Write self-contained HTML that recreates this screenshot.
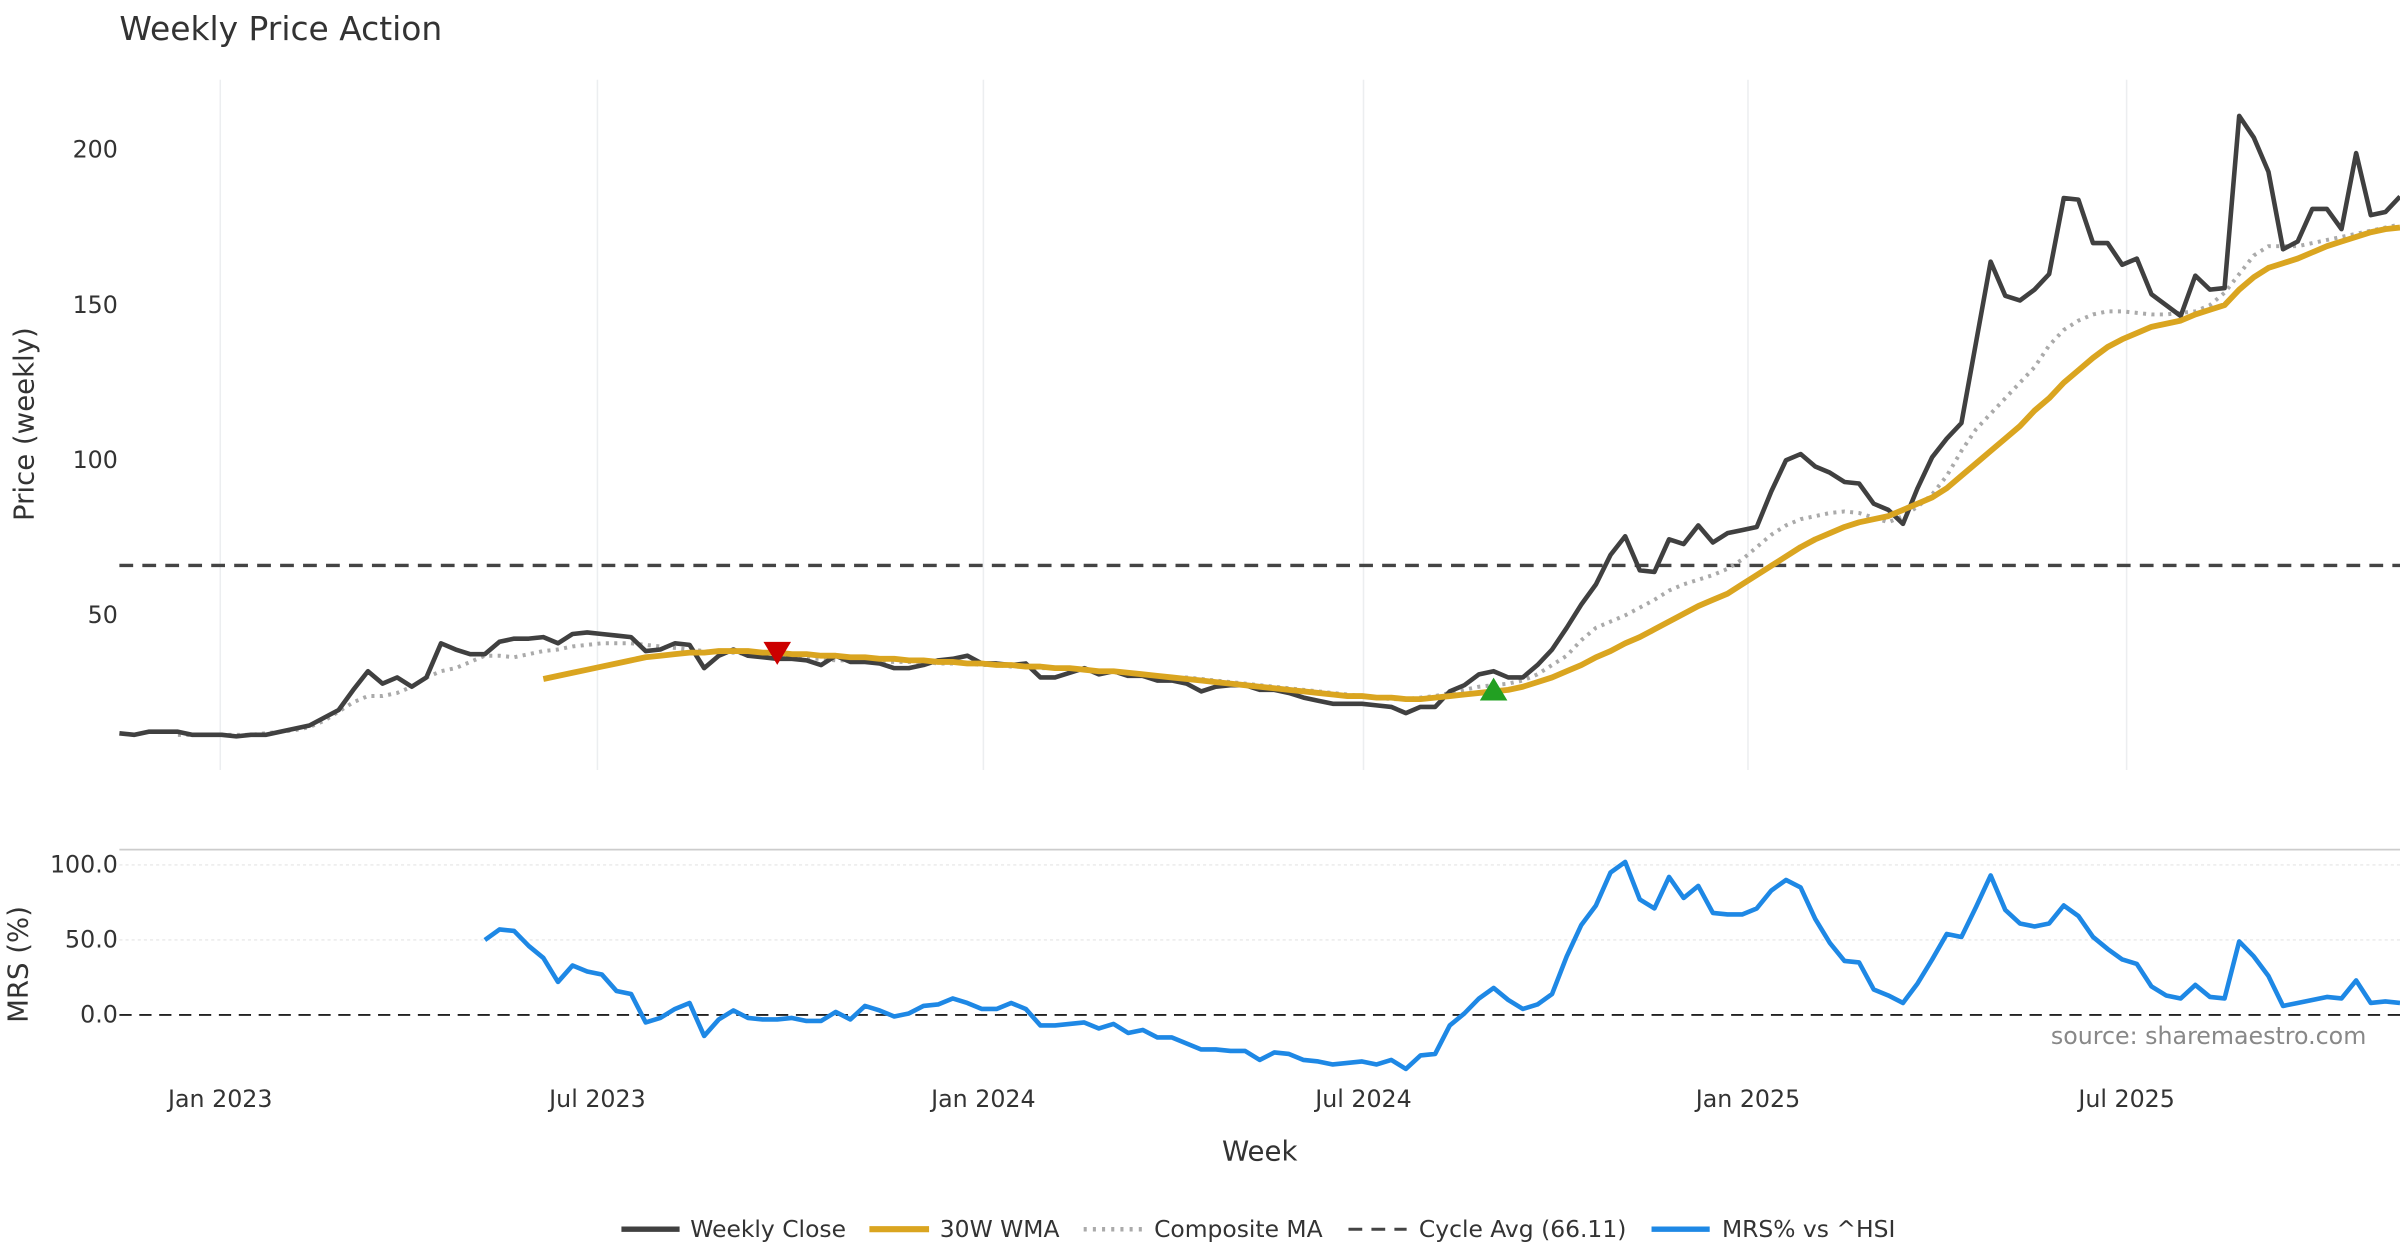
<!DOCTYPE html>
<html><head><meta charset="utf-8"><style>
html,body{margin:0;padding:0;background:#fff;}
svg{display:block;font-family:"DejaVu Sans","Liberation Sans",sans-serif;}
</style></head><body>
<svg id="chart" width="2400" height="1260" viewBox="0 0 1568 823" xmlns="http://www.w3.org/2000/svg">
<text x="78" y="26" font-size="21.5" fill="#333">Weekly Price Action</text>
<g id="grid"></g>
<g id="axes"></g>
<g id="series"></g>
<text transform="translate(22,277) rotate(-90)" text-anchor="middle" font-size="18" fill="#333">Price (weekly)</text>
<text transform="translate(18,630) rotate(-90)" text-anchor="middle" font-size="18" fill="#333">MRS (%)</text>
<text x="823" y="758" text-anchor="middle" font-size="18" fill="#333">Week</text>
<text x="1546" y="682" text-anchor="end" font-size="15.5" fill="#888">source: sharemaestro.com</text>
<g id="legend" font-size="15.3" fill="#333">
<line x1="406" y1="803" x2="444" y2="803" stroke="#404040" stroke-width="3.5"/><text x="451" y="808">Weekly Close</text>
<line x1="568" y1="803" x2="607" y2="803" stroke="#DAA520" stroke-width="4"/><text x="614" y="808">30W WMA</text>
<line x1="708" y1="803" x2="746" y2="803" stroke="#aaa" stroke-width="3" stroke-dasharray="2,4"/><text x="754" y="808">Composite MA</text>
<line x1="881" y1="803" x2="919" y2="803" stroke="#444" stroke-width="2" stroke-dasharray="9,6"/><text x="927" y="808">Cycle Avg (66.11)</text>
<line x1="1079" y1="803" x2="1117" y2="803" stroke="#1E88E5" stroke-width="3.5"/><text x="1125" y="808">MRS% vs ^HSI</text>
</g>
</svg>
<script>
const closeVals=[12,11.5,12.5,12.5,12.5,11.5,11.5,11.5,11,11.5,11.5,12.5,13.5,14.5,17,19.5,26,32,28,30,27,30,41,39,37.5,37.5,41.5,42.5,42.5,43,41,44,44.5,44,43.5,43,38.5,39,41,40.5,33,37,39,37,36.5,36,36,35.5,34,37,35,35,34.5,33,33,34,35.5,36,37,34.5,34.5,34,34.5,30,30,31.5,33,31,32,30.5,30.5,29,29,28,25.5,27,27.5,27.5,26,26,25,23.5,22.5,21.5,21.5,21.5,21,20.5,18.5,20.5,20.5,25.5,27.5,31,32,30,30,34,39,46,53.5,60,69.5,75.5,64.5,64,74.5,73,79,73.5,76.5,77.5,78.5,90,100,102,98,96,93,92.5,86,84,79.5,91,101,107,112,138,164,153,151.5,155,160,184.5,184,170,170,163,165,153.5,150,146.5,159.5,155,155.5,211,204,193,168,170.5,181,181,174.5,199,179,180,185];
const compositeVals=[11.5,11.5,11.5,11.5,11.5,11.5,12,12.5,13,14,16,19,22,24,24,25,27,30,32,33,35,37,37,36.5,37.5,38.5,39,40,40.5,41,41,41,40.5,40,39.5,39,38.5,38,38,37.5,37,36.5,36.5,36,36,35.5,35.5,35.5,35,35,35,35,34.5,34.5,34.5,34,34,33.5,33.5,33,33,32.5,32.5,32,32,31.5,31,30.5,30,30,29.5,29,28.5,28,27.5,27,26.5,26,25.5,25,24.5,24,23.5,23,23,23.5,24,25,26,27,27.5,28,29,31,34,37,42,46,48,50,52.5,55,58,60,61.5,63,65,68,72,76,79,81,82,83,83.5,83,81.5,80,82,85,89,95,103,110,115,120,125,130,137,142,145,147,148,148,147.5,147,147,147.5,148,150,154,160,166,169,169,169,170,171,172,173,174,175,176];
const wmaVals=[29.5,30.5,31.5,32.5,33.5,34.5,35.5,36.5,37,37.5,38,38,38.5,38.5,38.5,38,38,37.5,37.5,37,37,36.5,36.5,36,36,35.5,35.5,35,35,34.5,34.5,34,34,33.5,33.5,33,33,32.5,32,32,31.5,31,30.5,30,29.5,29,28.5,28,27.5,27,26.5,26,25.5,25,24.5,24,24,23.5,23.5,23,23,23.5,24,24.5,25,25.5,26,27,28.5,30,32,34,36.5,38.5,41,43,45.5,48,50.5,53,55,57,60,63,66,69,72,74.5,76.5,78.5,80,81,82,84,86,88,91,95,99,103,107,111,116,120,125,129,133,136.5,139,141,143,144,145,147,148.5,150,155,159,162,163.5,165,167,169,170.5,172,173.5,174.5,175];
const mrsVals=[50,57,56,46,38,22,33,29,27,16,14,-5,-2,4,8,-14,-3,3,-2,-3,-3,-2,-4,-4,2,-3,6,3,-1,1,6,7,11,8,4,4,8,4,-7,-7,-6,-5,-9,-6,-12,-10,-15,-15,-19,-23,-23,-24,-24,-30,-25,-26,-30,-31,-33,-32,-31,-33,-30,-36,-27,-26,-7,1,11,18,10,4,7,14,39,60,73,95,102,77,71,92,78,86,68,67,67,71,83,90,85,64,48,36,35,17,13,8,21,37,54,52,72,93,70,61,59,61,73,66,52,44,37,34,19,13,11,20,12,11,49,39,26,6,8,10,12,11,23,8,9,8];
const cycleAvg=66.11;
const sellSignal={week:45,value:37.5};
const buySignal={week:94,value:26};
const priceTicks=[50,100,150,200];
const mrsTicks=[0,50,100];
const xTickWeeks=[6.9,32.7,59.1,85.1,111.4,137.3];
const xTickLabels=["Jan 2023","Jul 2023","Jan 2024","Jul 2024","Jan 2025","Jul 2025"];

const NS="http://www.w3.org/2000/svg";
const N=closeVals.length;
function x(i){return 78+i*(1490/156);}
function yP(v){return 503.3-v*2.027;}
function yM(v){return 663-v*0.98;}
function mk(tag,attrs,parent){const e=document.createElementNS(NS,tag);for(const k in attrs)e.setAttribute(k,attrs[k]);parent.appendChild(e);return e;}
const grid=document.getElementById('grid'),axes=document.getElementById('axes'),series=document.getElementById('series');

xTickWeeks.forEach((w,k)=>{
  const gl=mk('line',{x1:x(w),x2:x(w),y1:52,y2:503,stroke:'#eceef0','stroke-width':1},grid);
  
  
  const t=mk('text',{x:x(w),y:723,'text-anchor':'middle','font-size':15.5,fill:'#333'},axes);
  t.textContent=xTickLabels[k];
  
  
});
priceTicks.forEach(v=>{
  const t=mk('text',{x:77,y:yP(v)+5,'text-anchor':'end','font-size':15.5,fill:'#333'},axes);
  t.textContent=v;
  
  
});
const border=mk('line',{x1:78,x2:1568,y1:555,y2:555,stroke:'#ccc','stroke-width':1.2},grid);


mrsTicks.forEach(v=>{
  if(v!==0){const gl=mk('line',{x1:78,x2:1568,y1:yM(v),y2:yM(v),stroke:'#e4e4e4','stroke-width':0.8,'stroke-dasharray':'2,2'},grid);
  
  }
  const t=mk('text',{x:77,y:yM(v)+5,'text-anchor':'end','font-size':15.5,fill:'#333'},axes);
  t.textContent=v.toFixed(1);
  
  
});
const zl=mk('line',{x1:78,x2:1568,y1:yM(0),y2:yM(0),stroke:'#222','stroke-width':1.2,'stroke-dasharray':'8,5'},grid);


const ca=mk('line',{x1:78,x2:1568,y1:yP(cycleAvg),y2:yP(cycleAvg),stroke:'#444','stroke-width':2.2,'stroke-dasharray':'9,6'},series);



function path(vals,start,yf){return vals.map((v,j)=>(j?'L':'M')+x(start+j).toFixed(2)+','+yf(v).toFixed(2)).join('');}
const comp=mk('path',{d:path(compositeVals,N-compositeVals.length,yP),fill:'none',stroke:'#aaa','stroke-width':2.6,'stroke-dasharray':'2,3.5'},series);


const cl=mk('path',{d:path(closeVals,0,yP),fill:'none',stroke:'#404040','stroke-width':3,'stroke-linejoin':'round'},series);


const wm=mk('path',{d:path(wmaVals,N-wmaVals.length,yP),fill:'none',stroke:'#DAA520','stroke-width':3.8,'stroke-linejoin':'round'},series);


const mr=mk('path',{d:path(mrsVals,N-mrsVals.length,yM),fill:'none',stroke:'#1E88E5','stroke-width':3,'stroke-linejoin':'round'},series);



const sx=x(sellSignal.week),sy=yP(sellSignal.value);
const sm=mk('polygon',{points:`${sx-9},${sy-8} ${sx+9},${sy-8} ${sx},${sy+7}`,fill:'#CC0000'},series);


const bx=x(buySignal.week),by=yP(buySignal.value);
const bm=mk('polygon',{points:`${bx-9},${by+7} ${bx+9},${by+7} ${bx},${by-8}`,fill:'#22A022'},series);


</script>
</body></html>
